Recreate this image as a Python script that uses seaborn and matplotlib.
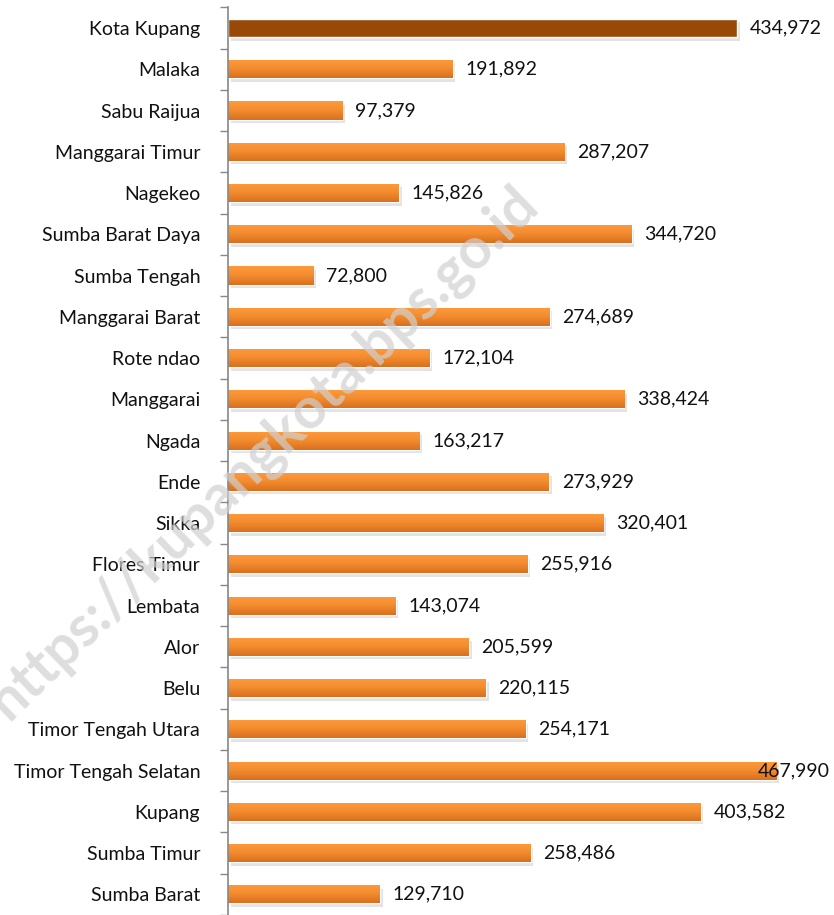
import matplotlib
matplotlib.use("Agg")
import matplotlib.pyplot as plt
import matplotlib.patheffects as pe
import numpy as np
import pandas as pd
import seaborn as sns
from matplotlib.colors import LinearSegmentedColormap

regions = ["Kota Kupang", "Malaka", "Sabu Raijua", "Manggarai Timur", "Nagekeo",
           "Sumba Barat Daya", "Sumba Tengah", "Manggarai Barat", "Rote ndao",
           "Manggarai", "Ngada", "Ende", "Sikka", "Flores Timur", "Lembata",
           "Alor", "Belu", "Timor Tengah Utara", "Timor Tengah Selatan",
           "Kupang", "Sumba Timur", "Sumba Barat"]
population = [434972, 191892, 97379, 287207, 145826, 344720, 72800, 274689,
              172104, 338424, 163217, 273929, 320401, 255916, 143074, 205599,
              220115, 254171, 467990, 403582, 258486, 129710]

df = pd.DataFrame({"region": regions, "population": population})

sns.set_theme(style="white")
plt.rcParams["font.family"] = ["Lato", "DejaVu Sans"]

fig = plt.figure(figsize=(8.34, 9.15), dpi=100)
ax = fig.add_axes([228 / 834, 0, 1 - 228 / 834, 908 / 915])

palette = ["#984807"] + ["#F79646"] * (len(regions) - 1)
sns.barplot(data=df, x="population", y="region", hue="region", palette=palette,
            legend=False, width=0.44, ax=ax, saturation=1)

# gradient fill + soft shadow like the office chart
orange = LinearSegmentedColormap.from_list("o", ["#FF9A3C", "#F28C2E", "#D9701F"])
for i, bar in enumerate(ax.patches):
    bar.set_path_effects([pe.SimplePatchShadow(offset=(2, -2.5), alpha=0.15,
                                               shadow_rgbFace="#444444"),
                          pe.Normal()])
    if i == 0:
        continue
    x0, y0 = bar.get_x(), bar.get_y()
    w, h = bar.get_width(), bar.get_height()
    grad = np.linspace(0, 1, 32).reshape(-1, 1)
    im = ax.imshow(grad, cmap=orange, aspect="auto",
                   extent=(x0, x0 + w, y0 + h, y0), zorder=bar.get_zorder() + 0.1)
    im.set_clip_path(bar)

xmax = 517500
for i, v in enumerate(population):
    x = v + 11000
    if x + 70000 > xmax:   # no room: label slides back over the bar end
        x = xmax - 65000
    ax.text(x, i, f"{v:,}", va="center", ha="left", fontsize=14,
            color="#111111", zorder=5)

ax.set_xlim(0, xmax)
ax.set_ylim(21 + 18 / 41.38, -0.51)
ax.set_xlabel("")
ax.set_ylabel("")
ax.set_xticks([])
ax.set_yticks(np.arange(len(regions)))
ax.set_yticklabels(regions, fontsize=14, color="#111111")
ax.set_yticks(np.arange(len(regions) + 1) - 0.5, minor=True)
ax.tick_params(axis="y", which="major", length=0, pad=20)
ax.tick_params(axis="y", which="minor", length=6, color="#888888", width=1, left=True)
for s in ["top", "right", "bottom"]:
    ax.spines[s].set_visible(False)
ax.spines["left"].set_color("#888888")
ax.spines["left"].set_linewidth(1.2)

fig.text(0.315, 0.505, "https://kupangkota.bps.go.id", fontsize=41, fontweight="bold",
         color="#d0d0d0", alpha=0.7, rotation=44, ha="center", va="center", zorder=0)

fig.savefig("out.png", dpi=100)
